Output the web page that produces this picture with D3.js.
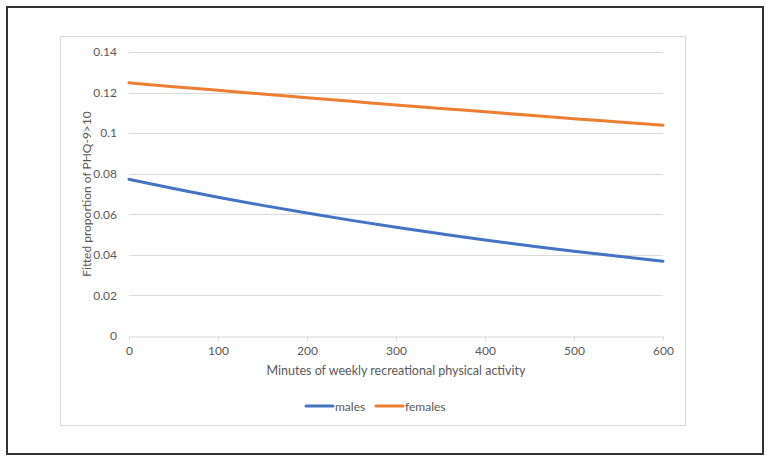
<!DOCTYPE html>
<html><head><meta charset="utf-8">
<script src="https://cdn.jsdelivr.net/npm/d3@7"></script>
<style>body{margin:0;background:#fff}svg{display:block}text{font-family:Lato,"Open Sans",sans-serif;fill:#595959}</style>
</head><body>
<svg id="c" width="771" height="462"></svg>
<script>
const minutes = [0,50,100,150,200,250,300,350,400,450,500,550,600];
const males   = [0.0772,0.0727,0.0684,0.0644,0.0606,0.0570,0.0536,0.0504,0.0473,0.0445,0.0418,0.0393,0.0369];
const females = [0.1248,0.1229,0.1211,0.1193,0.1175,0.1157,0.1139,0.1122,0.1105,0.1088,0.1071,0.1055,0.1039];
const xTicks = [0,100,200,300,400,500,600];
const yTicks = [0,0.02,0.04,0.06,0.08,0.1,0.12,0.14];
const seriesNames = ["males","females"];
const colors = ["#4472C4","#ED7D31"];

const svg = d3.select("#c");
svg.append("rect").attr("x",7).attr("y",7).attr("width",756).attr("height",447)
  .attr("fill","#fff").attr("stroke","#333").attr("stroke-width",2);
svg.append("rect").attr("x",60.5).attr("y",36.5).attr("width",625).attr("height",389)
  .attr("fill","#fff").attr("stroke","#D9D9D9").attr("stroke-width",1);

const x = d3.scaleLinear().domain([0,600]).range([129,663]);
const y = d3.scaleLinear().domain([0,0.14]).range([336,52]);

// gridlines
svg.append("g").selectAll("line").data(yTicks.slice(1)).join("line")
  .attr("x1",129).attr("x2",663).attr("y1",d=>Math.round(y(d))+0.5).attr("y2",d=>Math.round(y(d))+0.5)
  .attr("stroke","#D9D9D9").attr("stroke-width",1);

// y axis labels
const yAx = svg.append("g").attr("transform","translate(129,0)")
  .call(d3.axisLeft(y).tickValues(yTicks).tickSize(0).tickPadding(12).tickFormat(d=>d3.format("")(+d.toFixed(2))));
yAx.select(".domain").remove();
yAx.selectAll("text").attr("font-size",12).attr("fill","#595959").style("font-family","Lato, 'Open Sans', sans-serif");

// x axis
const xAx = svg.append("g").attr("transform","translate(0,336.5)")
  .call(d3.axisBottom(x).tickValues(xTicks).tickSize(4).tickSizeOuter(0).tickPadding(6));
xAx.select(".domain").attr("stroke","#D9D9D9");
xAx.selectAll(".tick line").attr("stroke","#D9D9D9");
xAx.selectAll("text").attr("font-size",12).attr("fill","#595959").style("font-family","Lato, 'Open Sans', sans-serif");

// titles
svg.append("text").attr("x",396).attr("y",375).attr("text-anchor","middle").attr("font-size",12.5)
  .text("Minutes of weekly recreational physical activity");
svg.append("text").attr("transform","translate(91,194) rotate(-90)").attr("text-anchor","middle").attr("font-size",12)
  .text("Fitted proportion of PHQ-9>10");

// lines
const line = d3.line().x((d,i)=>x(minutes[i])).y(d=>y(d)).curve(d3.curveMonotoneX);
[males,females].forEach((s,k)=>{
  svg.append("path").attr("d",line(s)).attr("fill","none").attr("stroke",colors[k])
    .attr("stroke-width",3).attr("stroke-linecap","round");
});

// legend
const lx = [306,376];
seriesNames.forEach((n,k)=>{
  svg.append("line").attr("x1",lx[k]).attr("x2",lx[k]+27).attr("y1",406).attr("y2",406)
    .attr("stroke",colors[k]).attr("stroke-width",3).attr("stroke-linecap","round");
  svg.append("text").attr("x",lx[k]+29).attr("y",410.5).attr("font-size",12).text(n);
});
</script>
</body></html>
